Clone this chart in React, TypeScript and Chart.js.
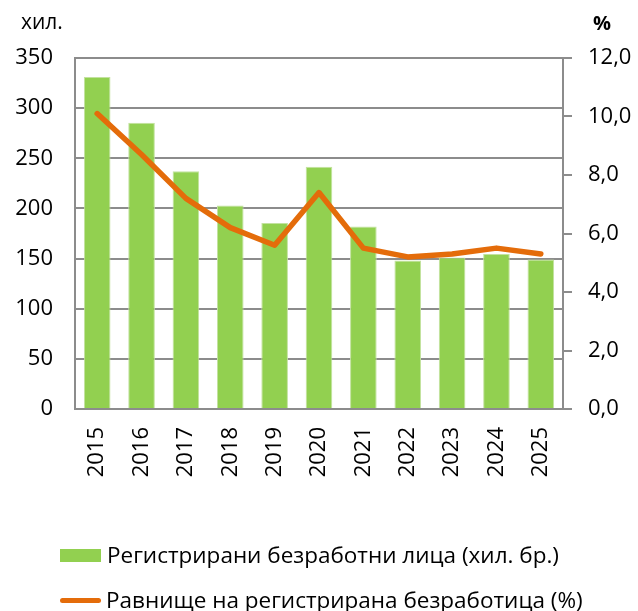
import React, { useEffect, useRef } from "react";
import { Chart, registerables } from "chart.js";

Chart.register(...registerables);

const years = ["2015", "2016", "2017", "2018", "2019", "2020", "2021", "2022", "2023", "2024", "2025"];
const registered = [331, 285.5, 237, 203, 185.5, 241.5, 182, 148, 151, 154.5, 149];
const rate = [10.1, 8.7, 7.2, 6.2, 5.6, 7.4, 5.5, 5.2, 5.3, 5.5, 5.3];
const leftTicks = [0, 50, 100, 150, 200, 250, 300, 350];
const rightTicks = [0, 2, 4, 6, 8, 10, 12];

const barLabel = "Регистрирани безработни лица (хил. бр.)";
const lineLabel = "Равнище на регистрирана безработица (%)";
const leftUnit = "хил.";
const rightUnit = "%";

const FONT = "'Open Sans', sans-serif";
const GREEN = "#92D050";
const GREEN_BORDER = "#C3E29F";
const ORANGE = "#E46C0A";
const GRID = "#8C8C8C";

export default function App() {
  const ref = useRef<HTMLCanvasElement | null>(null);

  useEffect(() => {
    if (!ref.current) return;
    const unitPlugin = {
      id: "units",
      afterDraw(chart: any) {
        const ctx = chart.ctx;
        ctx.save();
        ctx.fillStyle = "#000";
        ctx.font = `21px ${FONT}`;
        ctx.textBaseline = "middle";
        ctx.textAlign = "left";
        ctx.fillText(leftUnit, 21, 23);
        ctx.font = `bold 20px ${FONT}`;
        ctx.fillText(rightUnit, 593, 24);
        ctx.restore();
      },
    };
    const chart = new Chart(ref.current, {
      type: "bar",
      data: {
        labels: years,
        datasets: [
          {
            type: "line",
            label: lineLabel,
            data: rate,
            yAxisID: "y1",
            borderColor: ORANGE,
            backgroundColor: ORANGE,
            borderWidth: 5.5,
            pointRadius: 0,
            tension: 0,
            borderCapStyle: "round",
            borderJoinStyle: "round",
            order: 0,
          } as any,
          {
            type: "bar",
            label: barLabel,
            data: registered,
            yAxisID: "y",
            backgroundColor: GREEN,
            borderColor: GREEN_BORDER,
            borderWidth: 1,
            barPercentage: 0.6,
            categoryPercentage: 1,
            order: 1,
          } as any,
        ],
      },
      options: {
        animation: false,
        responsive: false,
        maintainAspectRatio: false,
        layout: { padding: { top: 58, bottom: 112, left: 0, right: 0 } },
        plugins: {
          legend: { display: false },
          tooltip: { enabled: false },
        },
        scales: {
          x: {
            grid: { display: false, drawTicks: false },
            border: { display: true, color: GRID, width: 2 },
            ticks: {
              color: "#000",
              font: { family: FONT, size: 22 },
              minRotation: 90,
              maxRotation: 90,
              padding: 18,
            },
            afterFit(scale: any) {
              scale.height = 90;
            },
          },
          y: {
            position: "left",
            min: 0,
            max: 350,
            afterBuildTicks(scale: any) {
              scale.ticks = leftTicks.map((v) => ({ value: v }));
            },
            grid: { color: GRID, lineWidth: 2, drawTicks: false },
            border: { display: true, color: GRID, width: 2 },
            ticks: {
              color: "#000",
              font: { family: FONT, size: 22 },
              padding: 22,
            },
            afterFit(scale: any) {
              scale.width = 75;
            },
          },
          y1: {
            position: "right",
            min: 0,
            max: 12,
            afterBuildTicks(scale: any) {
              scale.ticks = rightTicks.map((v) => ({ value: v }));
            },
            grid: { drawOnChartArea: false, color: GRID, lineWidth: 2, tickLength: 9 },
            border: { display: true, color: GRID, width: 2 },
            ticks: {
              color: "#000",
              font: { family: FONT, size: 22 },
              padding: 16,
              callback: (v: any) => Number(v).toFixed(1).replace(".", ","),
            },
            afterFit(scale: any) {
              scale.width = 75;
            },
          },
        },
      },
      plugins: [unitPlugin],
    } as any);
    return () => chart.destroy();
  }, []);

  return (
    <div style={{ position: "fixed", left: 0, top: 0, width: 638, height: 611, background: "#fff" }}>
      <canvas ref={ref} width={638} height={611} style={{ display: "block" }} />
      <div style={{ position: "absolute", left: 60, top: 539, fontFamily: FONT, fontSize: 22.5, color: "#000", display: "flex", alignItems: "center", whiteSpace: "nowrap", lineHeight: "32px" }}>
        <span style={{ display: "inline-block", width: 41, height: 13, background: GREEN, marginRight: 6 }} />
        {barLabel}
      </div>
      <div style={{ position: "absolute", left: 60, top: 584, fontFamily: FONT, fontSize: 22.5, color: "#000", display: "flex", alignItems: "center", whiteSpace: "nowrap", lineHeight: "32px" }}>
        <span style={{ display: "inline-block", width: 41, height: 5, borderRadius: 3, background: ORANGE, marginRight: 5 }} />
        {lineLabel}
      </div>
    </div>
  );
}
